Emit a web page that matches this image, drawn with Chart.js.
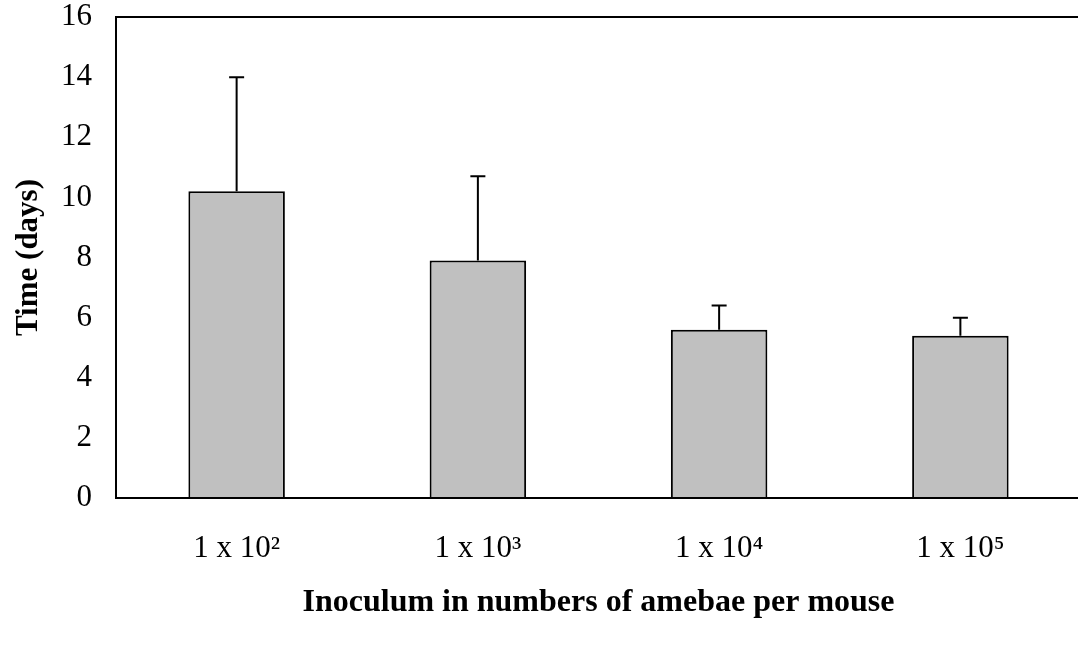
<!DOCTYPE html>
<html lang="en">
<head>
  <meta charset="UTF-8">
  <title>Time vs inoculum</title>
  <script src="https://cdn.jsdelivr.net/npm/chart.js@4.4.0/dist/chart.umd.min.js"></script>
  <style>
    html, body { margin: 0; padding: 0; background: #fff; overflow: hidden; }
    .chart-box { width: 1082px; height: 648px; }
  </style>
</head>
<body>
  <div class="chart-box">
    <canvas id="bar-chart"></canvas>
  </div>

  <script>
    // values
    const categories = ['1 x 10\u00B2', '1 x 10\u00B3', '1 x 10\u2074', '1 x 10\u2075'];
    const meanDays = [10.2, 7.9, 5.6, 5.4];
    const upperErr = [3.8, 2.8, 0.8, 0.6];   // bar top -> whisker end
    const yTicks = [0, 2, 4, 6, 8, 10, 12, 14, 16];

    const serif = '"Liberation Serif", "Times New Roman", serif';

    // upper error bars, one per bar
    const errorBars = {
      id: 'errorBars',
      afterDatasetsDraw(chart) {
        const ctx = chart.ctx;
        const y = chart.scales.y;
        const meta = chart.getDatasetMeta(0);
        ctx.save();
        ctx.strokeStyle = '#000';
        ctx.lineWidth = 2;
        meta.data.forEach((bar, i) => {
          const x = bar.x;
          const yTop = y.getPixelForValue(meanDays[i] + upperErr[i]);
          const yBar = y.getPixelForValue(meanDays[i]);
          ctx.beginPath();
          ctx.moveTo(x, yBar);
          ctx.lineTo(x, yTop);
          ctx.moveTo(x - 7.5, yTop);
          ctx.lineTo(x + 7.5, yTop);
          ctx.stroke();
        });
        ctx.restore();
      }
    };

    // box round the plot area
    const frame = {
      id: 'frame',
      afterDraw(chart) {
        const a = chart.chartArea;
        const ctx = chart.ctx;
        ctx.save();
        ctx.strokeStyle = '#000';
        ctx.lineWidth = 2;
        ctx.strokeRect(a.left, a.top, a.right - a.left, a.bottom - a.top);
        ctx.restore();
      }
    };

    new Chart(document.getElementById('bar-chart'), {
      type: 'bar',
      data: {
        labels: categories,
        datasets: [{
          data: meanDays,
          backgroundColor: '#c0c0c0',
          borderColor: '#000',
          borderWidth: 2,
          borderSkipped: 'bottom',
          barPercentage: 0.4,
          categoryPercentage: 1.0
        }]
      },
      options: {
        responsive: true,
        maintainAspectRatio: false,
        animation: false,
        layout: { padding: { top: 17, right: 1, left: 0, bottom: 0 } },
        plugins: { legend: { display: false }, tooltip: { enabled: false } },
        scales: {
          x: {
            grid: { display: false, drawTicks: false },
            border: { display: true, color: '#000', width: 2 },
            ticks: { color: '#000', padding: 32, font: { family: serif, size: 31 } },
            title: {
              display: true,
              text: 'Inoculum in numbers of amebae per mouse',
              color: '#000',
              padding: { top: 0, bottom: 26 },
              font: { family: serif, size: 32, weight: 'bold' }
            },
            afterFit(scale) { scale.height = 150; }
          },
          y: {
            min: 0,
            max: 16,
            afterBuildTicks(scale) { scale.ticks = yTicks.map(v => ({ value: v })); },
            grid: { display: false, drawTicks: false },
            border: { display: true, color: '#000', width: 2 },
            ticks: { color: '#000', padding: 24, font: { family: serif, size: 31 } },
            title: {
              display: true,
              text: 'Time (days)',
              color: '#000',
              padding: { top: 10, bottom: 0 },
              font: { family: serif, size: 31, weight: 'bold' }
            },
            afterFit(scale) {
              scale.width = 116;
              scale.paddingTop = 0;
              scale.paddingBottom = 0;
            }
          }
        }
      },
      plugins: [errorBars, frame]
    });
  </script>
</body>
</html>
